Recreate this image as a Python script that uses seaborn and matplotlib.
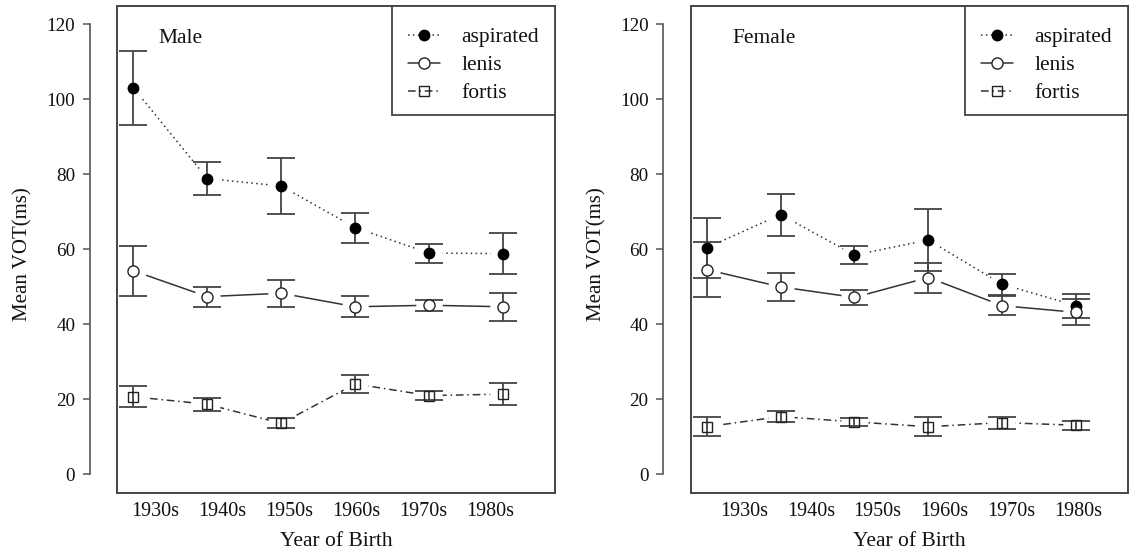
import numpy as np
import pandas as pd
import matplotlib
matplotlib.use("Agg")
import matplotlib.pyplot as plt
import matplotlib.patches as mpatches
from matplotlib.lines import Line2D
import seaborn as sns

# ---------------- data ----------------
decades = ["1930s", "1940s", "1950s", "1960s", "1970s", "1980s"]
stop_types = ["aspirated", "lenis", "fortis"]

male_aspirated = [103.1, 78.9, 76.9, 65.8, 59.0, 58.9]
male_aspirated_err = [9.9, 4.4, 7.4, 4.0, 2.5, 5.4]
male_lenis = [54.3, 47.4, 48.3, 44.7, 45.1, 44.7]
male_lenis_err = [6.7, 2.7, 3.6, 2.8, 1.5, 3.7]
male_fortis = [20.7, 18.7, 13.6, 24.1, 21.0, 21.4]
male_fortis_err = [2.8, 1.7, 1.3, 2.5, 1.1, 3.0]

female_aspirated = [60.4, 69.3, 58.5, 62.5, 50.7, 45.0]
female_aspirated_err = [8.1, 5.6, 2.3, 8.2, 2.8, 3.2]
female_lenis = [54.6, 50.0, 47.2, 52.5, 45.0, 43.2]
female_lenis_err = [7.3, 3.8, 2.0, 4.0, 2.6, 3.5]
female_fortis = [12.7, 15.4, 14.0, 12.7, 13.8, 13.1]
female_fortis_err = [2.6, 1.5, 1.05, 2.6, 1.6, 1.25]

yticks = [0, 20, 40, 60, 80, 100, 120]
panel_titles = ["Male", "Female"]

# ---------------- style ----------------
sns.set_theme(style="white")
plt.rcParams["font.family"] = ["Liberation Serif", "DejaVu Serif"]
plt.rcParams["axes.unicode_minus"] = False

LINE_C = "#333333"
AX_C = "#444444"
TXT_C = "#111111"

fig = plt.figure(figsize=(11.33, 5.52), dpi=100)
ax_m = fig.add_axes([0.1035, 0.1074, 0.3863, 0.8823])
ax_f = fig.add_axes([0.6096, 0.1074, 0.3857, 0.8823])

panels = [
    (ax_m, panel_titles[0],
     {"aspirated": (male_aspirated, male_aspirated_err),
      "lenis": (male_lenis, male_lenis_err),
      "fortis": (male_fortis, male_fortis_err)},
     0.30),
    (ax_f, panel_titles[1],
     {"aspirated": (female_aspirated, female_aspirated_err),
      "lenis": (female_lenis, female_lenis_err),
      "fortis": (female_fortis, female_fortis_err)},
     0.505),
]

marker_kw = {
    "aspirated": dict(marker="o", ms=7.5, mfc="black", mec="black", mew=1.0),
    "lenis": dict(marker="o", ms=8, mfc="white", mec="#222222", mew=1.0),
    "fortis": dict(marker="s", ms=7, mfc="none", mec="#222222", mew=1.0),
}
dash_map = {"aspirated": (1.0, 2.2), "lenis": "", "fortis": (5, 2.5, 1, 2.5)}

for ax, title, series, label_offset in panels:
    pos = np.arange(len(decades))
    rows = []
    for t in stop_types:
        vals, errs = series[t]
        for i, v in enumerate(vals):
            rows.append({"pos": i, "value": v, "type": t})
    df = pd.DataFrame(rows)

    sns.lineplot(data=df, x="pos", y="value", style="type", style_order=stop_types,
                 dashes=dash_map, color=LINE_C, lw=1.1, legend=False,
                 estimator=None, sort=False, ax=ax, zorder=2)

    for t in stop_types:
        vals, errs = series[t]
        # white halo producing gaps between connecting lines and points
        ax.plot(pos, vals, "o", ms=18, color="white", zorder=2.2, lw=0)
    for t in stop_types:
        vals, errs = series[t]
        ax.errorbar(pos, vals, yerr=errs, fmt="none", ecolor=AX_C, elinewidth=1.3,
                    capsize=10, capthick=1.3, zorder=2.4)
    for t in stop_types:
        vals, errs = series[t]
        ax.plot(pos, vals, ls="none", zorder=3, **marker_kw[t])

    ax.set_xlim(-0.217, 5.70)
    ax.set_ylim(-4.9, 125.0)

    for s in ["top", "right", "bottom"]:
        ax.spines[s].set_visible(False)
    ax.spines["left"].set_position(("outward", 19.8))
    ax.spines["left"].set_bounds(0, 120)
    ax.spines["left"].set_color("#555555")
    ax.spines["left"].set_linewidth(1.2)
    ax.add_patch(mpatches.Rectangle((0, 0), 1, 1, transform=ax.transAxes, fill=False,
                                    edgecolor=AX_C, lw=1.4, clip_on=False, zorder=4))

    ax.set_yticks(yticks)
    ax.set_yticklabels([str(v) for v in yticks])
    ax.tick_params(axis="y", left=True, length=5, width=1.1, color="#555555",
                   labelsize=13.8, pad=5.5, labelcolor=TXT_C)
    ax.set_xticks(pos + label_offset + pos * -0.095)
    ax.set_xticklabels(decades)
    ax.tick_params(axis="x", length=0, labelsize=14.5, pad=7, labelcolor=TXT_C)

    ax.set_xlabel("Year of Birth", fontsize=15.5, color=TXT_C)
    ax.xaxis.set_label_coords(0.5, -0.08)
    ax.set_ylabel("Mean VOT(ms)", fontsize=15, color=TXT_C)
    ax.yaxis.set_label_coords(-0.193, 0.49)
    ax.grid(False)
    ax.set_facecolor("white")

    ax.text(0.095, 0.933, title, transform=ax.transAxes, fontsize=15.5,
            va="center", ha="left", color=TXT_C)

    # legend (frame drawn separately to get the reference's proportions)
    handles = [Line2D([], [], color=LINE_C, lw=1.1, ls=(0, dash_map[t]) if dash_map[t] else "-",
                      **marker_kw[t]) for t in stop_types]
    leg = ax.legend(handles, stop_types, loc="upper left", bbox_to_anchor=(0.664, 0.956),
                    borderaxespad=0, borderpad=0, frameon=False, fontsize=15.5,
                    handlelength=1.5, handletextpad=0.98, labelspacing=0.37)
    for txt in leg.get_texts():
        txt.set_color(TXT_C)
    leg.set_zorder(6)
    ax.add_patch(mpatches.Rectangle((0.628, 0.7756), 0.372, 0.2244, transform=ax.transAxes,
                                    facecolor="white", edgecolor=AX_C, lw=1.3,
                                    clip_on=False, zorder=5))

fig.savefig("out.png", dpi=100, facecolor="white")
